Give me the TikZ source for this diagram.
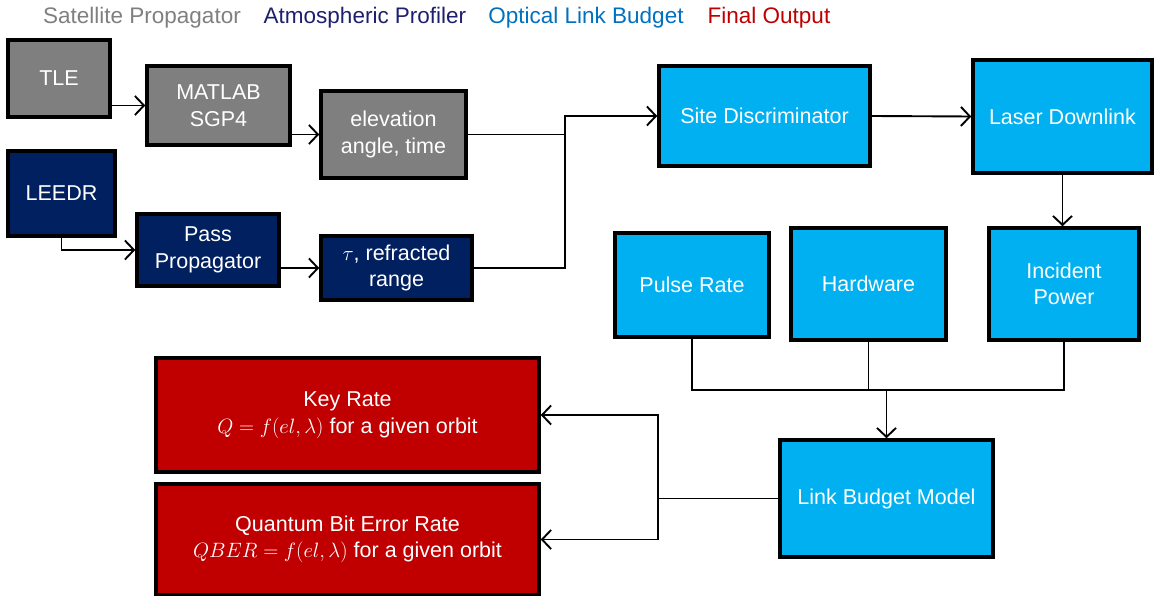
\documentclass[tikz,border=0pt]{standalone}
\usepackage{fontspec}
\setmainfont{Liberation Sans}
\usepackage{tikz}
\usetikzlibrary{arrows.meta, positioning, calc}
\definecolor{satgray}{HTML}{7F7F7F}
\definecolor{atmnavy}{HTML}{002060}
\definecolor{optblue}{HTML}{00B0F0}
\definecolor{outred}{HTML}{C00000}
\definecolor{legnavy}{HTML}{1F1F6F}
\definecolor{legblue}{HTML}{0070C0}

\begin{document}
\begin{tikzpicture}[
  x=1pt, y=-1pt,
  box/.style={draw=black, line width=3.5pt, inner sep=0pt,
              text=white, align=center,
              font=\fontsize{21.5}{26.5}\selectfont},
  legend/.style={font=\fontsize{22.5}{26}\selectfont},
  arr/.style={-{Straight Barb[length=9pt, width=19pt]}, line width=1.9pt},
  line/.style={line width=1.9pt}
]
  \useasboundingbox (0,0) rectangle (1154,596);

  % legend
  \node[legend, text=satgray] (legsat) at (142,18) {Satellite Propagator};
  \node[legend, text=legnavy] (legatm) at (365,18) {Atmospheric Profiler};
  \node[legend, text=legblue] (legopt) at (586,18) {Optical Link Budget};
  \node[legend, text=outred]  (legout) at (769,18) {Final Output};

  % satellite propagator
  \node[box, fill=satgray, minimum width=102, minimum height=77] (tle) at (59,78.5) {TLE};
  \node[box, fill=satgray, minimum width=143, minimum height=79] (sgp) at (218.5,105.5) {MATLAB\\SGP4};
  \node[box, fill=satgray, minimum width=145, minimum height=87] (elev) at (393.5,134.5) {elevation\\angle, time};

  % atmospheric profiler
  \node[box, fill=atmnavy, minimum width=107, minimum height=85] (leedr) at (61.5,193.5) {LEEDR};
  \node[box, fill=atmnavy, minimum width=142, minimum height=72] (pass) at (208,250) {Pass\\Propagator};
  \node[box, fill=atmnavy, minimum width=151, minimum height=64] (tau) at (396.5,268) {$\tau$, refracted\\range};

  % optical link budget
  \node[box, fill=optblue, minimum width=211, minimum height=100] (site) at (764.5,116) {Site Discriminator};
  \node[box, fill=optblue, minimum width=179, minimum height=113] (laser) at (1062.5,116.5) {Laser Downlink};
  \node[box, fill=optblue, minimum width=154, minimum height=104] (pulse) at (692,285) {Pulse Rate};
  \node[box, fill=optblue, minimum width=155, minimum height=112] (hardware) at (868.5,284) {Hardware};
  \node[box, fill=optblue, minimum width=150, minimum height=112] (incident) at (1064,284) {Incident\\Power};
  \node[box, fill=optblue, minimum width=213, minimum height=117] (lbm) at (886.5,498.5) {Link Budget Model};

  % final output
  \node[box, fill=outred, minimum width=383, minimum height=114] (key) at (347.5,415)
    {Key Rate\\$Q=f(el,\lambda)$ for a given orbit};
  \node[box, fill=outred, minimum width=383, minimum height=111] (qber) at (347.5,539.5)
    {Quantum Bit Error Rate\\$QBER=f(el,\lambda)$ for a given orbit};

  \coordinate (merge) at (565,0);
  \coordinate (bus) at (0,390);
  \coordinate (split) at (658,0);

  \draw[arr] (tle.east |- sgp) -- (sgp.west);
  \draw[arr] (sgp.east |- elev) -- (elev.west);
  \draw[arr] (leedr.south) |- (pass.west);
  \draw[arr] (pass.east |- tau) -- (tau.west);
  \draw[line] (tau.east) -| (elev.east -| merge);
  \draw[arr] (elev.east) -- (elev.east -| merge) |- (site.west);
  \draw[arr] (site.east) -- (laser.west);
  \draw[arr] (laser.south) -- (laser.south |- incident.north);

  \draw[line] (pulse.south) -- (pulse.south |- bus) -- (incident.south |- bus) -- (incident.south);
  \draw[line] (hardware.south) -- (hardware.south |- bus);
  \draw[arr] (lbm.north |- bus) -- (lbm.north);

  \draw[line] (lbm.west) -- (lbm.west -| split);
  \draw[arr] (lbm.west -| split) |- (key.east);
  \draw[arr] (lbm.west -| split) |- (qber.east);
\end{tikzpicture}
\end{document}
